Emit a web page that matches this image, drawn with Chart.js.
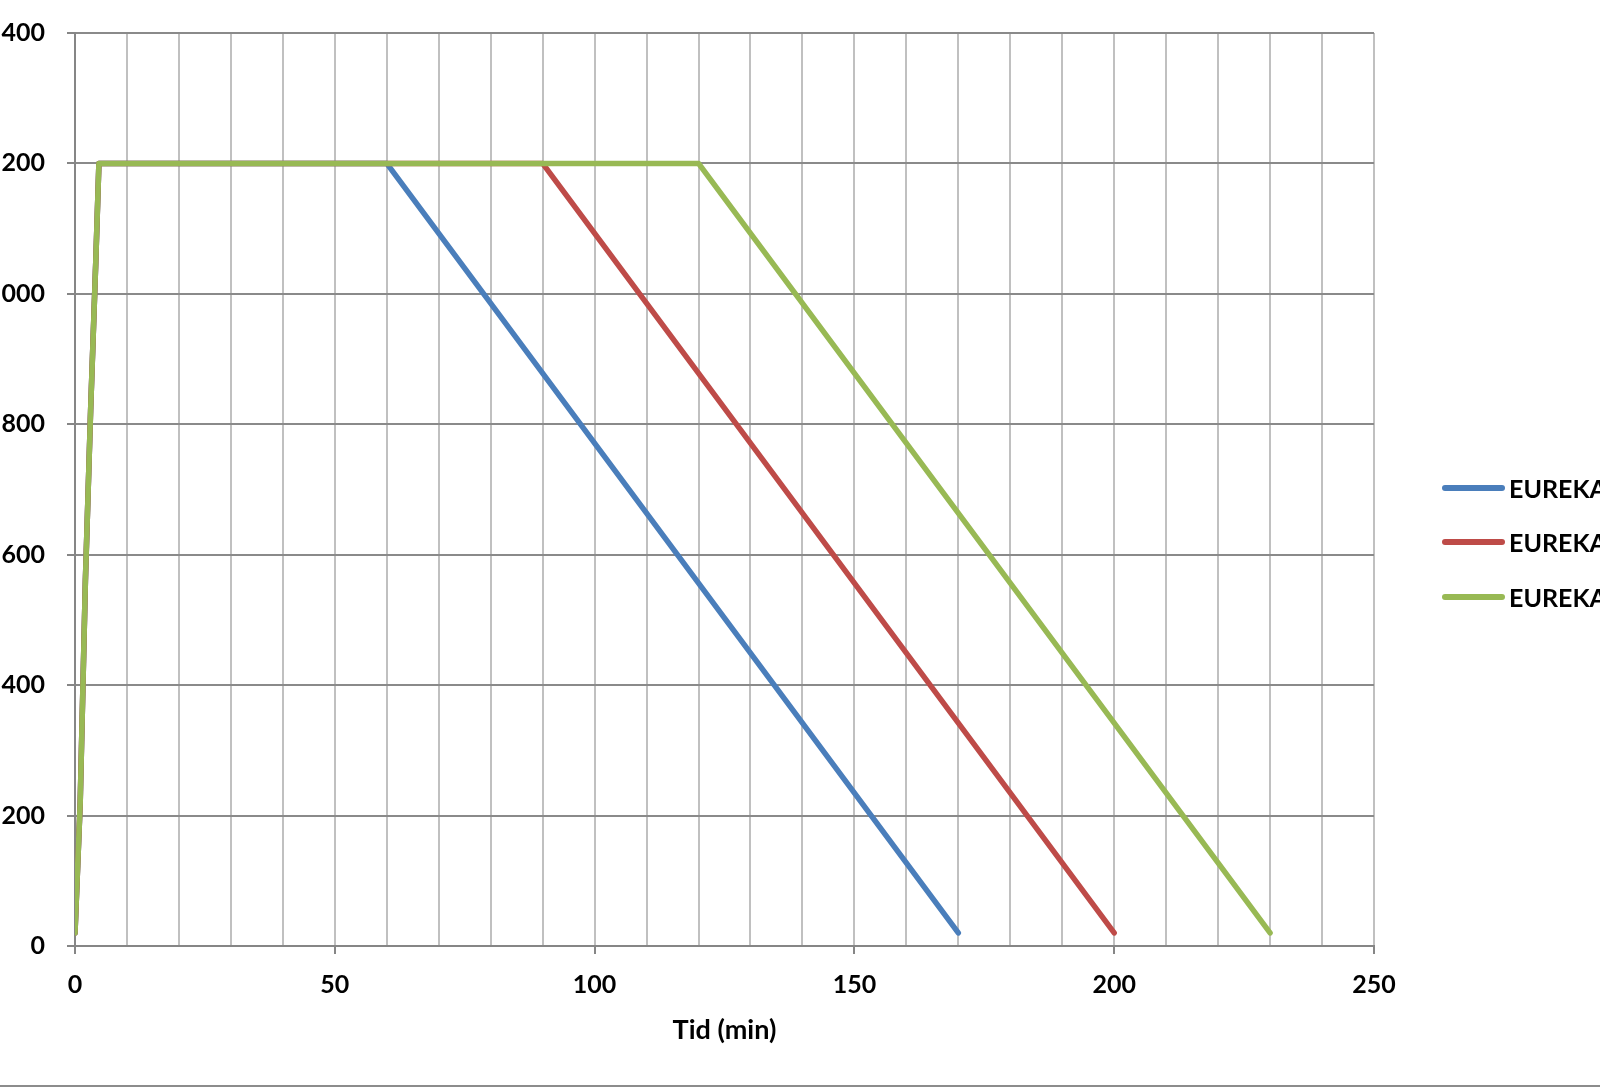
<!DOCTYPE html>
<html>
<head>
<meta charset="utf-8">
<script src="https://cdn.jsdelivr.net/npm/chart.js@4/dist/chart.umd.min.js"></script>
<style>
  html, body { margin: 0; padding: 0; background: #fff; }
  #frame { position: relative; width: 1600px; height: 1088px; overflow: hidden; background: #fff; }
  #chart { position: absolute; left: -100px; top: 0; }
  #bottomRule { position: absolute; left: 0; right: 0; top: 1085px; height: 2px; background: #8c8c8c; }
  #legend { position: absolute; left: 1442px; top: 474px; margin: 0; padding: 0; list-style: none; white-space: nowrap; }
  #legend li { display: flex; align-items: center; height: 27px; margin-bottom: 27.5px; font: bold 25px Lato, "Open Sans", sans-serif; color: #000; }
  #legend .swatch { display: inline-block; width: 63px; height: 6px; border-radius: 3px; margin-right: 4px; }
</style>
</head>
<body>
<div id="frame">
  <canvas id="chart" width="1800" height="1088"></canvas>
  <ul id="legend"></ul>
  <div id="bottomRule"></div>
</div>
<script>
const seriesNames = ["EUREKA 60 min", "EUREKA 90 min", "EUREKA 120 min"];
const seriesColors = ["#4a7ebb", "#be4b48", "#98b954"];

// time (min) and temperature readings for each series
const blueTimes = [0, 1, 2, 3, 4, 4.6, 60, 170];
const blueTemps = [20, 220, 560, 820, 1050, 1200, 1200, 20];
const redTimes = [0, 1, 2, 3, 4, 4.6, 90, 200];
const redTemps = [20, 220, 560, 820, 1050, 1200, 1200, 20];
const greenTimes = [0, 1, 2, 3, 4, 4.6, 120, 230];
const greenTemps = [20, 220, 560, 820, 1050, 1200, 1200, 20];

const xTickLabels = [0, 50, 100, 150, 200, 250];
const yTickLabels = [0, 200, 400, 600, 800, 1000, 1200, 1400];

const toPoints = (xs, ys) => xs.map((x, i) => ({ x: x, y: ys[i] }));
const seriesData = [
  toPoints(blueTimes, blueTemps),
  toPoints(redTimes, redTemps),
  toPoints(greenTimes, greenTemps)
];

const tickFont = { family: "Lato", weight: "bold", size: 25 };

const htmlLegend = {
  id: "htmlLegend",
  afterUpdate(chart) {
    const list = document.getElementById("legend");
    list.innerHTML = "";
    chart.data.datasets.forEach((ds) => {
      const li = document.createElement("li");
      const swatch = document.createElement("span");
      swatch.className = "swatch";
      swatch.style.background = ds.borderColor;
      li.appendChild(swatch);
      li.appendChild(document.createTextNode(ds.label));
      list.appendChild(li);
    });
  }
};

new Chart(document.getElementById("chart"), {
  type: "line",
  data: {
    datasets: seriesData.map((points, i) => ({
      label: seriesNames[i],
      data: points,
      borderColor: seriesColors[i],
      backgroundColor: seriesColors[i],
      borderWidth: 5.5,
      borderCapStyle: "round",
      borderJoinStyle: "round",
      pointRadius: 0,
      tension: 0,
      order: 3 - i
    }))
  },
  options: {
    responsive: false,
    animation: false,
    devicePixelRatio: 1,
    layout: { padding: { top: 33, left: 0, right: 326, bottom: 0 } },
    plugins: { legend: { display: false }, tooltip: { enabled: false } },
    scales: {
      x: {
        type: "linear",
        min: 0,
        max: 250,
        afterFit: (scale) => { scale.height = 142; },
        ticks: {
          stepSize: 10,
          autoSkip: false,
          maxRotation: 0,
          padding: 16,
          color: "#000",
          font: tickFont,
          callback: (v) => (xTickLabels.includes(v) ? String(v) : "")
        },
        grid: {
          color: "#c0c0c0",
          lineWidth: 2,
          tickLength: 8,
          tickColor: (ctx) => (ctx.tick && xTickLabels.includes(ctx.tick.value) ? "#868686" : "rgba(0,0,0,0)")
        },
        border: { color: "#868686", width: 2 },
        title: {
          display: true,
          text: "Tid (min)",
          color: "#000",
          font: { family: "Lato", weight: "bold", size: 27 },
          padding: { top: 0, bottom: 42 }
        }
      },
      y: {
        min: 0,
        max: 1400,
        afterFit: (scale) => {
          scale.width = 175;
          scale.paddingTop = 0;
          scale.paddingBottom = 0;
        },
        ticks: {
          stepSize: 200,
          padding: 22,
          color: "#000",
          font: tickFont,
          callback: (v) => (yTickLabels.includes(v) ? String(v) : "")
        },
        grid: { color: "#8a8a8a", lineWidth: 2, tickLength: 8, tickColor: "#868686" },
        border: { color: "#868686", width: 2 }
      }
    }
  },
  plugins: [htmlLegend]
});
</script>
</body>
</html>
